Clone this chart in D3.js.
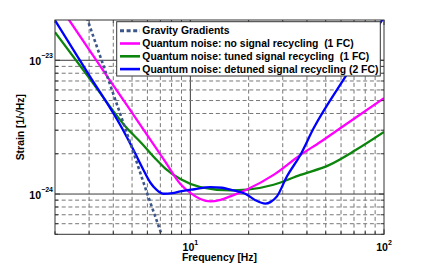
<!DOCTYPE html>
<html lang="en">
<head>
<meta charset="UTF-8">
<title>Strain noise</title>
<script src="https://cdn.jsdelivr.net/npm/d3@7/dist/d3.min.js"></script>
<style>
  body { margin: 0; background: #fff; }
  text { font-family: "Liberation Sans", Arial, sans-serif; font-weight: bold; fill: #000; }
</style>
</head>
<body>
<svg width="424" height="264"></svg>
<script>
// values (frequency in Hz, strain in 1/sqrt(Hz))
var ggFreq = [2.8, 3, 4, 5, 6, 7, 7.5];
var ggStrain = [2.49e-23, 1.86e-23, 5.6e-24, 2.2e-24, 1.0e-24, 5.3e-25, 4.0e-25];

var noSrFreq = [2.0, 2.37, 4.0, 5.67, 7.43, 8.88, 10, 11.26, 12.69, 14.3, 16.09, 19.6, 26.9, 37.0, 46.9, 60.7, 100];
var noSrStrain = [2.87e-23, 1.99e-23, 6.5e-24, 3.10e-24, 1.74e-24, 1.19e-24, 1.02e-24, 0.918e-24, 0.88e-24, 0.905e-24, 0.96e-24, 1.08e-24, 1.39e-24, 1.96e-24, 2.45e-24, 3.17e-24, 5.21e-24];

var tunedFreq = [2.0, 3.0, 4.71, 5.63, 6.6, 7.43, 8.88, 11.26, 16.09, 19.6, 26.9, 37.0, 52.0, 71.4, 100];
var tunedStrain = [1.62e-23, 7.4e-24, 3.10e-24, 2.38e-24, 1.84e-24, 1.55e-24, 1.293e-24, 1.127e-24, 1.064e-24, 1.077e-24, 1.173e-24, 1.39e-24, 1.644e-24, 2.13e-24, 2.91e-24];

var detunedFreq = [2, 3, 4.44, 5.08, 5.65, 6.22, 6.68, 7.25, 8.07, 8.88, 10.5, 12.69, 14.58, 16.09, 19.6, 21.66, 24.4, 25.9, 28.0, 31.5, 37.0, 43.3, 63.1, 96.8, 100];
var detunedStrain = [1.99e-23, 7.75e-24, 3.10e-24, 2.14e-24, 1.57e-24, 1.214e-24, 1.077e-24, 1.005e-24, 1.014e-24, 1.046e-24, 1.086e-24, 1.127e-24, 1.114e-24, 1.077e-24, 0.988e-24, 0.899e-24, 0.847e-24, 0.87e-24, 0.96e-24, 1.352e-24, 1.96e-24, 3.10e-24, 7.51e-24, 1.95e-23, 2.09e-23];

var seriesNames = ["Gravity Gradients",
    "Quantum noise: no signal recycling  (1 FC)",
    "Quantum noise: tuned signal recycling  (1 FC)",
    "Quantum noise: detuned signal recycling (2 FC)"];

var xMajor = [10, 100], xMajorExp = ["1", "2"];
var yMajor = [1e-24, 1e-23], yMajorExp = ["\u221224", "\u221223"];

var marge = {top: 20, bottom: 29.7, left: 55, right: 40};
var svg = d3.select("svg");
var width = +svg.attr("width");
var height = +svg.attr("height");
var x0 = marge.left, x1 = width - marge.right, y0 = height - marge.bottom, y1 = marge.top;

var xScale = d3.scaleLog().domain([2, 100]).range([x0, x1]);
var yScale = d3.scaleLog().domain([5e-25, 2e-23]).range([y0, y1]);

var xTicks = xScale.ticks().filter(function (d) { return d > 2.001 && d < 99.9; });
var yTicks = yScale.ticks().filter(function (d) { return d > 5.01e-25 && d < 1.99e-23; });
function isMajor(d) { return Math.abs(Math.log10(d) - Math.round(Math.log10(d))) < 1e-6; }

// grid
var grid = svg.append("g");
grid.selectAll(".gx").data(xTicks).enter().append("line")
    .attr("x1", function (d) { return xScale(d); }).attr("x2", function (d) { return xScale(d); })
    .attr("y1", y0).attr("y2", y1)
    .attr("stroke", function (d) { return isMajor(d) ? "#3a3a3a" : "#777"; })
    .attr("stroke-dasharray", function (d) { return isMajor(d) ? null : "4,2.7"; })
    .attr("stroke-width", 1);
grid.selectAll(".gy").data(yTicks).enter().append("line")
    .attr("y1", function (d) { return yScale(d); }).attr("y2", function (d) { return yScale(d); })
    .attr("x1", x0).attr("x2", x1)
    .attr("stroke", function (d) { return isMajor(d) ? "#3a3a3a" : "#777"; })
    .attr("stroke-dasharray", function (d) { return isMajor(d) ? null : "4,2.7"; })
    .attr("stroke-width", 1);

// curves
svg.append("clipPath").attr("id", "clip").append("rect")
    .attr("x", x0).attr("y", y1).attr("width", x1 - x0).attr("height", y0 - y1);

var line = d3.line()
    .x(function (d) { return xScale(d[0]); })
    .y(function (d) { return yScale(d[1]); })
    .curve(d3.curveMonotoneX);

var series = [
    {f: ggFreq, h: ggStrain, color: "#3b5689", width: 2.6, dash: "3,2.6"},
    {f: noSrFreq, h: noSrStrain, color: "#ff00ff", width: 2.3, dash: null},
    {f: tunedFreq, h: tunedStrain, color: "#0b850b", width: 2.3, dash: null},
    {f: detunedFreq, h: detunedStrain, color: "#0000ff", width: 2.3, dash: null}
];

var plot = svg.append("g").attr("clip-path", "url(#clip)");
// draw order: tuned, no SR, detuned, gravity on top
[2, 1, 3, 0].forEach(function (i) {
    var s = series[i];
    plot.append("path")
        .datum(d3.zip(s.f, s.h))
        .attr("d", line)
        .attr("fill", "none")
        .attr("stroke", s.color)
        .attr("stroke-width", s.width)
        .attr("stroke-dasharray", s.dash);
});

// frame and inward ticks
var frame = svg.append("g").attr("fill", "none").attr("stroke", "#333").attr("stroke-width", 1);
xScale.ticks().forEach(function (d) {
    var len = isMajor(d) ? 5 : 3;
    frame.append("line").attr("x1", xScale(d)).attr("x2", xScale(d)).attr("y1", y0).attr("y2", y0 - len);
    frame.append("line").attr("x1", xScale(d)).attr("x2", xScale(d)).attr("y1", y1).attr("y2", y1 + len);
});
yScale.ticks().forEach(function (d) {
    var len = isMajor(d) ? 5 : 3;
    frame.append("line").attr("y1", yScale(d)).attr("y2", yScale(d)).attr("x1", x0).attr("x2", x0 + len);
    frame.append("line").attr("y1", yScale(d)).attr("y2", yScale(d)).attr("x1", x1).attr("x2", x1 - len);
});
frame.append("rect").attr("x", x0).attr("y", y1).attr("width", x1 - x0).attr("height", y0 - y1);

// tick labels
xMajor.forEach(function (d, i) {
    var t = svg.append("text").attr("x", xScale(d)).attr("y", 250.5)
        .attr("text-anchor", "middle").style("font-size", "10.6px");
    t.append("tspan").text("10");
    t.append("tspan").attr("dy", -6).style("font-size", "7px").text(xMajorExp[i]);
});
yMajor.forEach(function (d, i) {
    var t = svg.append("text").attr("x", 53).attr("y", yScale(d) + 4.5)
        .attr("text-anchor", "end").style("font-size", "10.6px");
    t.append("tspan").text("10");
    t.append("tspan").attr("dy", -7).style("font-size", "7px").text(yMajorExp[i]);
});

// axis labels
svg.append("text").attr("x", (x0 + x1) / 2).attr("y", 261)
    .attr("text-anchor", "middle").style("font-size", "10.4px").text("Frequency [Hz]");
svg.append("text").attr("transform", "translate(23.5," + ((y0 + y1) / 2) + ") rotate(-90)")
    .attr("text-anchor", "middle").style("font-size", "10.4px").text("Strain [1/\u221AHz]");

// legend
var lg = svg.append("g");
lg.append("rect").attr("x", 116.7).attr("y", 21.7).attr("width", 263.6).attr("height", 54.3)
    .attr("fill", "#fff").attr("stroke", "#333").attr("stroke-width", 1);
seriesNames.forEach(function (name, i) {
    var yy = 30.7 + i * 12.8;
    var s = series[i];
    lg.append("line").attr("x1", 120).attr("x2", 140).attr("y1", yy).attr("y2", yy)
        .attr("stroke", s.color).attr("stroke-width", s.width + 0.3)
        .attr("stroke-dasharray", s.dash ? "4,2.6" : null);
    lg.append("text").attr("x", 142.3).attr("y", yy + 3.7)
        .style("font-size", "10.4px").style("white-space", "pre").text(name);
});
</script>
</body>
</html>
